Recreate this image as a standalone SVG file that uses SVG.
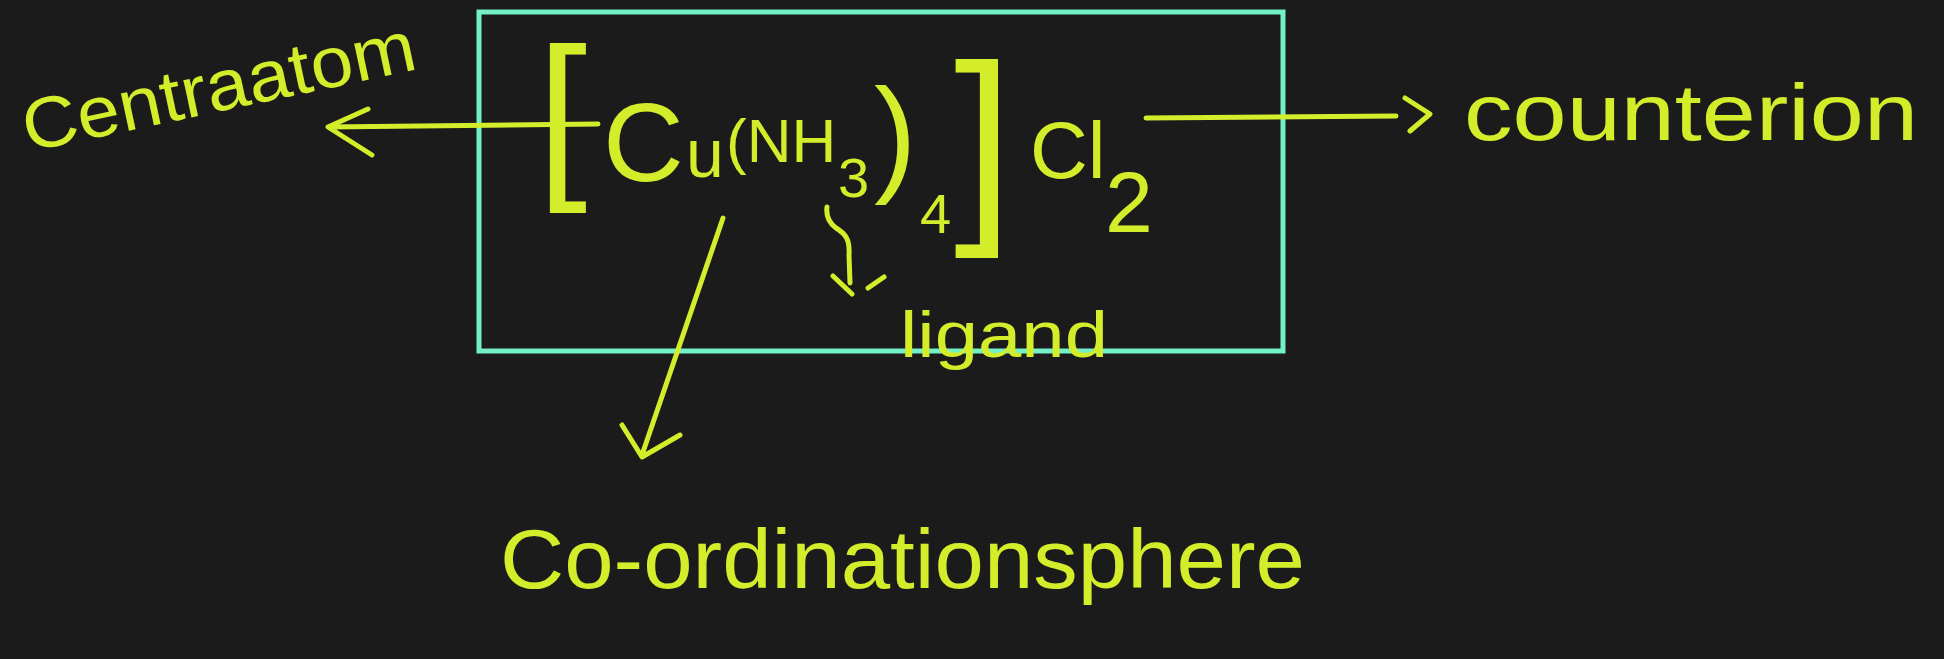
<svg xmlns="http://www.w3.org/2000/svg" width="1944" height="659" viewBox="0 0 1944 659">
<style>
.ink{fill:#d3ed2b;font-family:"Liberation Sans",Arial,sans-serif}
.ln{fill:none;stroke:#d3ed2b;stroke-width:5;stroke-linecap:round;stroke-linejoin:round}
.box{fill:none;stroke:#74f0c8;stroke-width:5}
</style>
<rect width="1944" height="659" fill="#1b1b1b"/>
<g id="sphere-box"><rect class="box" x="479" y="12" width="804" height="339"/></g>
<g id="formula">
<text class="ink" x="537" y="175" font-size="181">[</text>
<text class="ink" x="603" y="181" font-size="112">C</text>
<text class="ink" x="686" y="177" font-size="68">u</text>
<text class="ink" x="726" y="162" font-size="62">(NH</text>
<text class="ink" x="838" y="197" font-size="56">3</text>
<text class="ink" x="874" y="178" font-size="128">)</text>
<text class="ink" x="920" y="233" font-size="56">4</text>
<text class="ink" x="954" y="214" font-size="213">]</text>
<text class="ink" x="1030" y="178" font-size="80">Cl</text>
<text class="ink" x="1105" y="232" font-size="86">2</text>
</g>
<g id="central-atom"><text class="ink" x="28" y="152" font-size="72" textLength="400" lengthAdjust="spacingAndGlyphs" transform="rotate(-12 28 152)">Centraatom</text></g>
<g id="counter-ion"><text class="ink" x="1464" y="140" font-size="80" textLength="454" lengthAdjust="spacingAndGlyphs">counterion</text></g>
<g id="ligand"><text class="ink" x="900" y="357" font-size="64" textLength="208" lengthAdjust="spacingAndGlyphs">ligand</text></g>
<g id="coordination-sphere"><text class="ink" x="500" y="588" font-size="84" textLength="805" lengthAdjust="spacingAndGlyphs">Co-ordinationsphere</text></g>
<g id="connectors">
<path class="ln" d="M598,124 L328,127 M368,109 L328,127 L372,155"/>
<path class="ln" d="M1146,118 L1396,116 M1405,98 L1430,114 L1410,131"/>
<path class="ln" d="M723,218 L642,455 M622,425 L642,457 L680,435"/>
<path class="ln" d="M827,207 C826,215 828,222 836,228 C846,234 850,240 849,255 L850,283 M833,276 L852,294 M868,288 L884,277"/>
</g>
</svg>
